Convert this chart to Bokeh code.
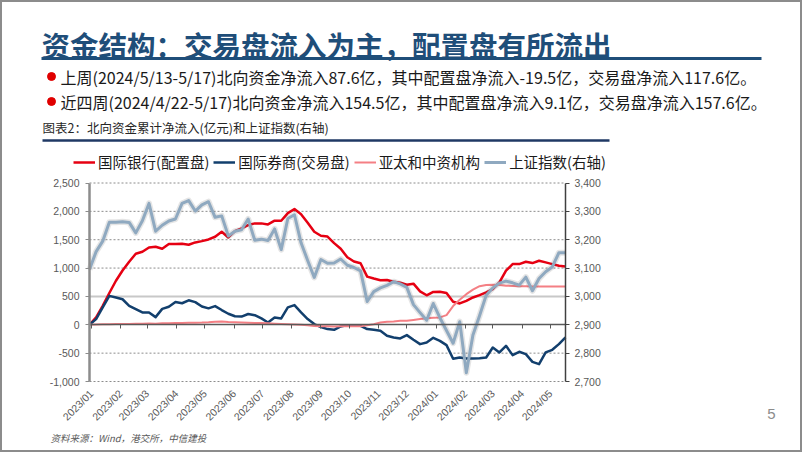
import math
import pandas as pd
from bokeh.plotting import figure
from bokeh.models import (Range1d, LinearAxis, DatetimeAxis, FixedTicker, NumeralTickFormatter,
                          DatetimeTickFormatter, Legend, LegendItem)
from bokeh.core.properties import value
from bokeh.embed import file_html
from bokeh.resources import INLINE

# ---------------- data ----------------
page_title = "资金结构：交易盘流入为主，配置盘有所流出"
bullet_texts = [
    "上周(2024/5/13-5/17)北向资金净流入87.6亿，其中配置盘净流入-19.5亿，交易盘净流入117.6亿。",
    "近四周(2024/4/22-5/17)北向资金净流入154.5亿，其中配置盘净流入9.1亿，交易盘净流入157.6亿。",
]
chart_caption = "图表2：北向资金累计净流入(亿元)和上证指数(右轴)"
source_text = "资料来源：Wind，港交所，中信建投"
page_number = "5"

series_names = ["国际银行(配置盘)", "国际券商(交易盘)", "亚太和中资机构", "上证指数(右轴)"]

dates = pd.date_range("2022-12-30", "2024-05-17", freq="7D")  # weekly (Fridays)

bank = [0, 130, 335, 560, 776, 958, 1111, 1252, 1288, 1364,
        1376, 1340, 1423, 1423, 1429, 1411, 1452, 1475, 1505, 1552,
        1640, 1540, 1650, 1700, 1758, 1788, 1788, 1770, 1835, 1835,
        1970, 2040, 1950, 1800, 1640, 1570, 1555, 1440, 1340, 1190,
        1115, 1085, 850, 815, 785, 790, 760, 740, 705, 725,
        590, 520, 580, 582, 559, 406, 376, 423, 482, 523,
        570, 629, 747, 953, 1070, 1070, 1111, 1088, 1129, 1100,
        1070, 1041, 1029]

broker = [0, 100, 306, 510, 480, 450, 335, 276, 218, 218,
          135, 280, 318, 400, 380, 432, 400, 323, 290, 330,
          260, 195, 150, 145, 190, 170, 112, 41, 129, 112,
          306, 347, 218, 100, 12, -40, -76, -88, -29, -6,
          -6, -18, -76, -88, -106, -194, -223, -241, -182, -264,
          -341, -312, -230, -283, -359, -600, -576, -594, -594, -588,
          -576, -400, -488, -370, -535, -476, -517, -653, -694, -488,
          -441, -341, -223]

asia = [0, 5, 8, 10, 12, 15, 15, 18, 20, 22,
        20, 25, 28, 30, 30, 35, 38, 40, 45, 55,
        60, 50, 45, 40, 35, 30, 30, 25, 20, 15,
        10, 5, 0, -10, -20, -25, -28, -30, -28, -25,
        -25, -28, -10, 10, 40, 55, 60, 70, 72, 85,
        100, 115, 125, 130, 170, 330, 440, 540, 620, 680,
        700, 708, 700, 690, 685, 680, 678, 676, 675, 675,
        675, 673, 673]

sse = [3095, 3158, 3195, 3262, 3262, 3263, 3261, 3224, 3267, 3328,
       3230, 3251, 3266, 3273, 3328, 3338, 3301, 3323, 3334, 3279,
       3284, 3213, 3230, 3235, 3273, 3198, 3202, 3197, 3238, 3165,
       3275, 3288, 3189, 3127, 3067, 3130, 3117, 3118, 3132, 3110,
       3102, 3090, 2982, 3017, 3030, 3039, 3052, 3044, 3032, 2971,
       2943, 2916, 2975, 2925, 2880, 2835, 2911, 2731, 2864, 2932,
       3004, 3030, 3047, 3054, 3048, 3040, 3068, 3020, 3063, 3087,
       3104, 3154, 3154]

left_ticks = [-1000, -500, 0, 500, 1000, 1500, 2000, 2500]
right_ticks = [2700, 2800, 2900, 3000, 3100, 3200, 3300, 3400]
grid_dotted = [-1000, -500, 1000, 1500, 2000, 2500]
grid_solid = [500]
month_ticks = pd.date_range("2023-01-01", "2024-05-01", freq="MS")

# ---------------- layout (pixels) ----------------
W, H = 802, 452
PX0, PX1 = 89, 565          # plot area left / right
PY_TOP, PY_BOT = 182.5, 381  # plot area top / bottom
L_MIN, L_MAX = -1000, 2500
R_MIN, R_MAX = 2700, 3400

CJK = "Noto Sans CJK SC"
LAT = "Liberation Sans"
NAVY = "#1f4e79"
RED = "#e60012"
BLUE = "#123f6d"
PINK = "#f47f84"
GREYBLUE = "#8fa9c0"
LABEL_GREY = "#595959"

start_ms = dates[0].value / 1e6
end_ms = dates[-1].value / 1e6
month_ms = [t.value / 1e6 for t in month_ticks]

ms_per_px = (end_ms - start_ms) / (PX1 - PX0)
l_per_px = (L_MAX - L_MIN) / (PY_BOT - PY_TOP)
r_per_px = (R_MAX - R_MIN) / (PY_BOT - PY_TOP)

p = figure(width=W, height=H, output_backend="svg", toolbar_location=None,
           x_axis_location=None, y_axis_location=None, min_border=0,
           x_range=Range1d(start_ms - PX0 * ms_per_px, end_ms + (W - PX1) * ms_per_px),
           y_range=Range1d(L_MIN - (H - PY_BOT) * l_per_px, L_MAX + PY_TOP * l_per_px))
p.grid.visible = False
p.outline_line_color = "#8c8c8c"
p.outline_line_width = 3
p.background_fill_color = "white"
p.border_fill_color = "white"
p.extra_y_ranges = {"sse": Range1d(R_MIN - (H - PY_BOT) * r_per_px, R_MAX + PY_TOP * r_per_px),
                    "py": Range1d(H, 0)}
p.extra_x_ranges = {"px": Range1d(0, W)}

# ---------------- header / footer texts (pixel coordinates) ----------------
p.text(x=[41], y=[44], text=[page_title], x_range_name="px", y_range_name="py",
       text_font=value(CJK), text_font_size=value("28.5px"), text_font_style="bold",
       text_color=NAVY, text_baseline="middle", text_align="left")
p.segment(x0=[41], y0=[58], x1=[761], y1=[58], x_range_name="px", y_range_name="py",
          line_width=3, line_color=NAVY)
p.scatter(x=[51, 51], y=[76, 101], x_range_name="px", y_range_name="py", size=8, color="#e00000")
p.text(x=[60, 60], y=[76, 101], text=bullet_texts, x_range_name="px", y_range_name="py",
       text_font=value(CJK), text_font_size=value("16px"), text_color="#1a1a1a",
       text_baseline="middle", text_align="left")
p.text(x=[42], y=[127], text=[chart_caption], x_range_name="px", y_range_name="py",
       text_font=value(CJK), text_font_size=value("12.5px"), text_color="#262626",
       text_baseline="middle", text_align="left")
p.segment(x0=[42], y0=[140], x1=[609], y1=[140], x_range_name="px", y_range_name="py",
          line_width=2.5, line_color="#1f3864")
p.text(x=[50], y=[437], text=[source_text], x_range_name="px", y_range_name="py",
       text_font=value(CJK), text_font_size=value("9.5px"), text_font_style="italic",
       text_color=LABEL_GREY, text_baseline="middle", text_align="left")
p.text(x=[771], y=[413], text=[page_number], x_range_name="px", y_range_name="py",
       text_font=value(LAT), text_font_size=value("15px"), text_color="#8c8c8c",
       text_baseline="middle", text_align="center")

# ---------------- gridlines ----------------
p.segment(x0=[start_ms] * len(grid_dotted), x1=[end_ms] * len(grid_dotted),
          y0=grid_dotted, y1=grid_dotted, line_color="#8c8c8c", line_width=1, line_dash="2 2")
p.segment(x0=[start_ms] * len(grid_solid), x1=[end_ms] * len(grid_solid),
          y0=grid_solid, y1=grid_solid, line_color="#c8c8c8", line_width=2)

# ---------------- series ----------------
r_bank = p.line(dates, bank, line_color=RED, line_width=2.5, line_join="round")
r_broker = p.line(dates, broker, line_color=BLUE, line_width=2.5, line_join="round")
r_asia = p.line(dates, asia, line_color=PINK, line_width=2, line_join="round")
p.line(dates, sse, y_range_name="sse", line_color="#505050", line_alpha=0.15, line_width=6,
       line_join="round")
r_sse = p.line(dates, sse, y_range_name="sse", line_color=GREYBLUE, line_width=3, line_join="round")

# ---------------- axes ----------------
xa = DatetimeAxis(fixed_location=L_MIN, bounds=(start_ms, end_ms),
                  ticker=FixedTicker(ticks=month_ms),
                  formatter=DatetimeTickFormatter(days="%Y/%m", months="%Y/%m", years="%Y/%m"))
xa.major_label_orientation = math.pi / 4
xa.axis_line_color = None
xa.major_tick_line_color = None
xa.minor_tick_line_color = None
xa.major_label_standoff = 4
xa.major_label_text_font = LAT
xa.major_label_text_font_size = "10.5px"
xa.major_label_text_color = LABEL_GREY
p.add_layout(xa, "below")

ax0 = DatetimeAxis(fixed_location=0, bounds=(start_ms, end_ms),
                   ticker=FixedTicker(ticks=month_ms),
                   major_label_text_font_size="0px", major_label_text_alpha=0,
                   axis_line_color="#595959", axis_line_width=1.5,
                   major_tick_out=4, major_tick_in=0, major_tick_line_color="#595959",
                   minor_tick_line_color=None)
p.add_layout(ax0, "below")

ya = LinearAxis(fixed_location=start_ms, bounds=(L_MIN, L_MAX),
                ticker=FixedTicker(ticks=left_ticks), formatter=NumeralTickFormatter(format="0,0"))
ya.axis_line_color = "#8c8c8c"
ya.axis_line_width = 2.5
ya.major_tick_out = 4
ya.major_tick_in = 0
ya.major_tick_line_color = "#8c8c8c"
ya.minor_tick_line_color = None
ya.major_label_text_font = LAT
ya.major_label_text_font_size = "10.5px"
ya.major_label_text_color = LABEL_GREY
ya.major_label_standoff = 6
p.add_layout(ya, "left")

yr = LinearAxis(y_range_name="sse", fixed_location=end_ms, bounds=(R_MIN, R_MAX),
                ticker=FixedTicker(ticks=right_ticks), formatter=NumeralTickFormatter(format="0,0"))
yr.axis_line_color = "#404040"
yr.axis_line_width = 1.5
yr.major_tick_out = 4
yr.major_tick_in = 0
yr.major_tick_line_color = "#404040"
yr.minor_tick_line_color = None
yr.major_label_text_font = LAT
yr.major_label_text_font_size = "10.5px"
yr.major_label_text_color = LABEL_GREY
yr.major_label_standoff = 5
p.add_layout(yr, "right")

# ---------------- legend ----------------
legend = Legend(items=[LegendItem(label=series_names[0], renderers=[r_bank]),
                       LegendItem(label=series_names[1], renderers=[r_broker]),
                       LegendItem(label=series_names[2], renderers=[r_asia]),
                       LegendItem(label=series_names[3], renderers=[r_sse])],
                orientation="horizontal", location=(73, H - 172), glyph_width=22, glyph_height=20,
                label_standoff=3, spacing=4, padding=0, margin=0, border_line_color=None,
                background_fill_alpha=0, label_text_font=CJK, label_text_font_size="14.5px",
                label_text_color="#1a1a1a")
p.add_layout(legend)

open("out.html", "w").write(file_html(p, INLINE))
